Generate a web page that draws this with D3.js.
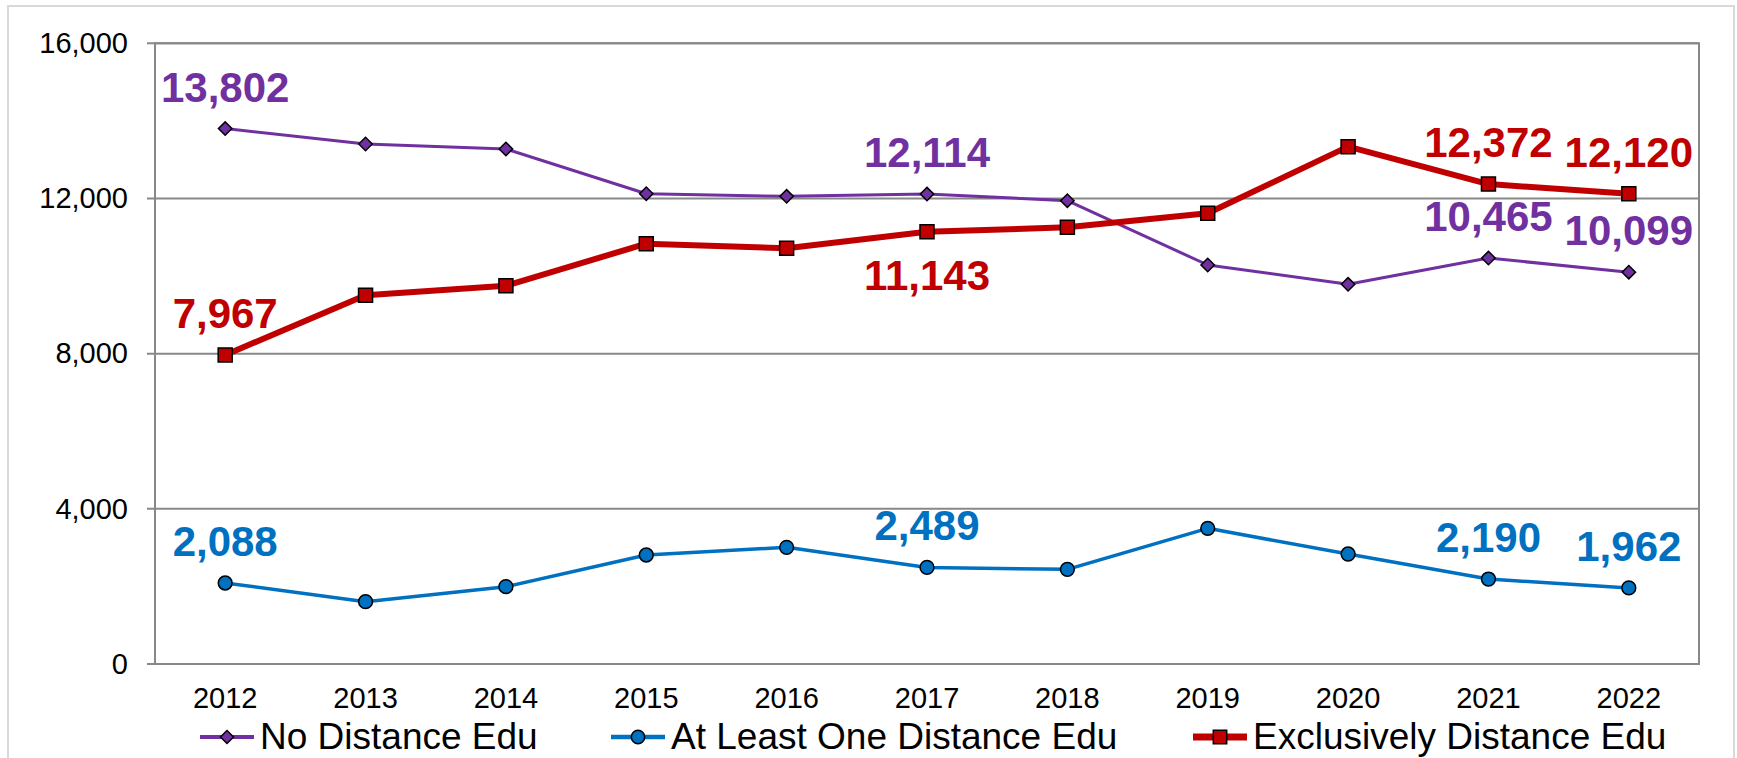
<!DOCTYPE html>
<html>
<head>
<meta charset="utf-8">
<script src="https://cdn.jsdelivr.net/npm/d3@7"></script>
<style>
  body { margin: 0; background: #fff; }
  text { font-family: "Liberation Sans", Arial, sans-serif; }
</style>
</head>
<body>
<script>
const width = 1737
const height = 758

// data
const years = [2012, 2013, 2014, 2015, 2016, 2017, 2018, 2019, 2020, 2021, 2022]
const noDistance = [13802, 13404, 13275, 12123, 12055, 12114, 11943, 10285, 9787, 10465, 10099]
const atLeastOne = [2088, 1607, 1994, 2810, 3007, 2489, 2440, 3497, 2835, 2190, 1962]
const exclusively = [7967, 9504, 9752, 10835, 10715, 11143, 11256, 11617, 13336, 12372, 12120]
const seriesNames = ['No Distance Edu', 'At Least One Distance Edu', 'Exclusively Distance Edu']
const yTicks = [0, 4000, 8000, 12000, 16000]
const labelYears = [2012, 2017, 2021, 2022]
const labelsBelow = ['Exclusively Distance Edu|2017']

const colors = ['#7030A0', '#0070C0', '#C00000']
const lineWidths = [3, 3.5, 6]
const symbols = ['diamond', 'circle', 'square']
const seriesValues = [noDistance, atLeastOne, exclusively]

const series = seriesNames.map((name, i) => ({
    name: name,
    color: colors[i],
    width: lineWidths[i],
    symbol: symbols[i],
    values: years.map((y, j) => ({ year: y, value: seriesValues[i][j] }))
}))

const svg = d3.select('body')
        .append('svg')
        .attr('width', width)
        .attr('height', height)

// outer chart frame
svg.append('rect')
        .attr('x', 8)
        .attr('y', 6)
        .attr('width', 1726)
        .attr('height', 800)
        .attr('fill', 'none')
        .attr('stroke', '#d9d9d9')
        .attr('stroke-width', 2)

// scales
const xScale = d3.scaleBand()
        .domain(years)
        .range([155, 1699])

const yScale = d3.scaleLinear()
        .domain([0, 16000])
        .range([664, 43.3])

const xc = d => xScale(d) + xScale.bandwidth() / 2

// gridlines
svg.append('g')
        .selectAll('line')
        .data(yTicks)
        .join('line')
        .attr('x1', 147)
        .attr('x2', 1699)
        .attr('y1', d => yScale(d))
        .attr('y2', d => yScale(d))
        .attr('stroke', '#888')
        .attr('stroke-width', 2)

// plot frame
svg.append('rect')
        .attr('x', 155)
        .attr('y', yScale(16000))
        .attr('width', 1699 - 155)
        .attr('height', yScale(0) - yScale(16000))
        .attr('fill', 'none')
        .attr('stroke', '#888')
        .attr('stroke-width', 2)

// y axis
const yAxis = d3.axisLeft(yScale)
        .tickValues(yTicks)
        .tickFormat(d3.format(','))
        .tickSize(0)
        .tickPadding(27)

svg.append('g')
        .attr('transform', 'translate(155,0)')
        .call(yAxis)
        .call(g => g.select('.domain').remove())
        .selectAll('text')
        .attr('font-size', 29)
        .attr('font-family', '"Liberation Sans", Arial, sans-serif')
        .attr('fill', '#000')

// x axis
const xAxis = d3.axisBottom(xScale)
        .tickSize(0)
        .tickPadding(23)

svg.append('g')
        .attr('transform', 'translate(0,' + yScale(0) + ')')
        .call(xAxis)
        .call(g => g.select('.domain').remove())
        .selectAll('text')
        .attr('font-size', 29)
        .attr('font-family', '"Liberation Sans", Arial, sans-serif')
        .attr('fill', '#000')

const symbolPath = (type, big) => {
    if (type === 'circle') return d3.symbol(d3.symbolCircle, big ? 150 : 140)()
    if (type === 'square') return d3.symbol(d3.symbolSquare, big ? 196 : 180)()
    return d3.symbol(d3.symbolSquare, big ? 90 : 85)()
}

// lines + markers
const line = d3.line()
        .x(d => xc(d.year))
        .y(d => yScale(d.value))

series.forEach(s => {
    svg.append('path')
            .datum(s.values)
            .attr('d', line)
            .attr('fill', 'none')
            .attr('stroke', s.color)
            .attr('stroke-width', s.width)
            .attr('stroke-linejoin', 'round')

    svg.append('g')
            .selectAll('path')
            .data(s.values)
            .join('path')
            .attr('d', symbolPath(s.symbol, true))
            .attr('transform', d => 'translate(' + xc(d.year) + ',' + yScale(d.value) + ')' + (s.symbol === 'diamond' ? ' rotate(45)' : ''))
            .attr('fill', s.color)
            .attr('stroke', '#000')
            .attr('stroke-width', 1.5)
})

// data labels
series.forEach(s => {
    svg.append('g')
            .selectAll('text')
            .data(s.values.filter(d => labelYears.includes(d.year)))
            .join('text')
            .attr('x', d => xc(d.year))
            .attr('y', d => {
                const below = labelsBelow.includes(s.name + '|' + d.year)
                return yScale(d.value) + (below ? 58 : -27)
            })
            .attr('text-anchor', 'middle')
            .attr('font-size', 42)
            .attr('font-weight', 'bold')
            .attr('fill', s.color)
            .text(d => d3.format(',')(d.value))
})

// legend
const legendX = [200, 611, 1193]
const legend = svg.append('g')
        .attr('transform', 'translate(0,737)')

series.forEach((s, i) => {
    const g = legend.append('g')
            .attr('transform', 'translate(' + legendX[i] + ',0)')
    g.append('line')
            .attr('x1', 0)
            .attr('x2', 54)
            .attr('stroke', s.color)
            .attr('stroke-width', s.width + 1)
    g.append('path')
            .attr('d', symbolPath(s.symbol, false))
            .attr('transform', 'translate(27,0)' + (s.symbol === 'diamond' ? ' rotate(45)' : ''))
            .attr('fill', s.color)
            .attr('stroke', '#000')
            .attr('stroke-width', 1.5)
    g.append('text')
            .attr('x', 60)
            .attr('y', 12)
            .attr('font-size', 37)
            .attr('fill', '#000')
            .text(s.name)
})
</script>
</body>
</html>
